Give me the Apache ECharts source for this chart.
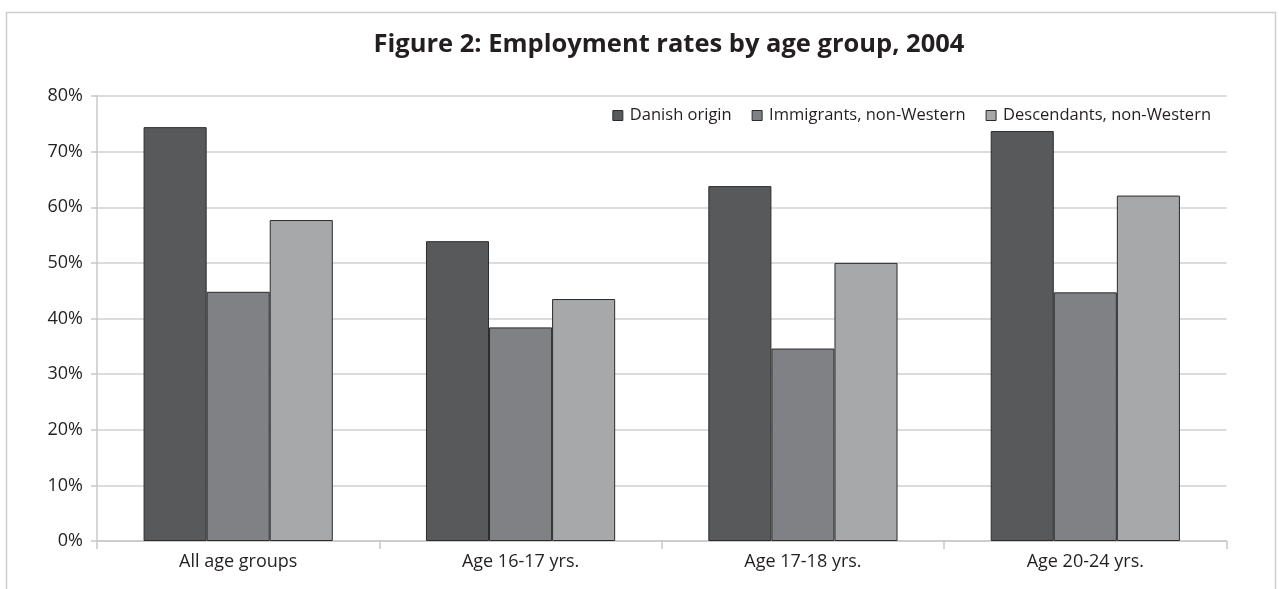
<!DOCTYPE html>
<html>
<head>
<meta charset="utf-8">
<script src="https://cdn.jsdelivr.net/npm/echarts@6/dist/echarts.min.js"></script>
<style>
html,body{margin:0;padding:0;background:#fff;}
#chart{width:1279px;height:589px;}
</style>
</head>
<body>
<div id="chart"></div>
<script>
const categories = ['All age groups', 'Age 16-17 yrs.', 'Age 17-18 yrs.', 'Age 20-24 yrs.'];
const seriesNames = ['Danish origin', 'Immigrants, non-Western', 'Descendants, non-Western'];
const danishOrigin = [74.4, 53.9, 63.8, 73.7];
const immigrantsNonWestern = [44.8, 38.4, 34.6, 44.7];
const descendantsNonWestern = [57.7, 43.5, 50.0, 62.1];
const colors = ['#58595b', '#808184', '#a7a8aa'];
const titleText = 'Figure 2: Employment rates by age group, 2004';

const chart = echarts.init(document.getElementById('chart'), null, {renderer: 'canvas'});
const font = '"Open Sans", "Liberation Sans", sans-serif';
const valuesList = [danishOrigin, immigrantsNonWestern, descendantsNonWestern];

const option = {
  animation: false,
  backgroundColor: '#ffffff',
  graphic: [{
    type: 'rect',
    shape: {x: 6.5, y: 12.5, width: 1269, height: 640},
    style: {fill: 'none', stroke: '#cfcfcf', lineWidth: 1.5},
    silent: true,
    z: -1
  }],
  title: {
    text: titleText,
    left: 664,
    textAlign: 'center',
    top: 27,
    textStyle: {
      fontFamily: font,
      fontWeight: 'bold',
      fontSize: 25.5,
      color: '#231f20'
    }
  },
  legend: {
    data: seriesNames,
    right: 63,
    top: 102,
    itemWidth: 10,
    itemHeight: 10,
    itemGap: 20,
    icon: 'rect',
    textStyle: {fontFamily: font, fontSize: 16.5, color: '#231f20', padding: [0, 0, 0, 2]},
    itemStyle: {borderColor: '#2b2b2b', borderWidth: 1}
  },
  grid: {left: 97, right: 52.5, top: 96, bottom: 48, containLabel: false},
  xAxis: {
    type: 'category',
    data: categories,
    boundaryGap: true,
    axisLine: {lineStyle: {color: '#c8c8c8', width: 1.5}},
    axisTick: {show: true, alignWithLabel: false, length: 8, lineStyle: {color: '#c8c8c8', width: 1.5}},
    axisLabel: {fontFamily: font, fontSize: 18, color: '#231f20', margin: 12}
  },
  yAxis: {
    type: 'value',
    min: 0,
    max: 80,
    interval: 10,
    axisLine: {show: true, lineStyle: {color: '#c8c8c8', width: 1.5}},
    axisTick: {show: true, length: 6, lineStyle: {color: '#c8c8c8', width: 1.5}},
    axisLabel: {fontFamily: font, fontSize: 18, color: '#231f20', margin: 14, formatter: '{value}%'},
    splitLine: {show: true, lineStyle: {color: '#d0d0d0', width: 1.5}}
  },
  series: seriesNames.map((name, i) => ({
    name: name,
    type: 'bar',
    data: valuesList[i],
    barGap: '0%',
    barCategoryGap: '33%',
    itemStyle: {color: colors[i], borderColor: '#2b2b2b', borderWidth: 1}
  }))
};
chart.setOption(option);
</script>
</body>
</html>
